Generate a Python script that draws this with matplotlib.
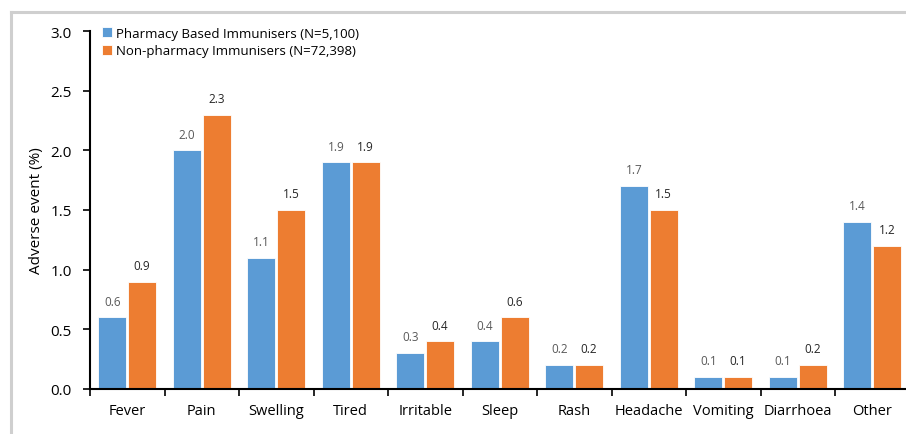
import numpy as np
import matplotlib.pyplot as plt
from matplotlib.lines import Line2D

categories = ['Fever', 'Pain', 'Swelling', 'Tired', 'Irritable', 'Sleep', 'Rash',
              'Headache', 'Vomiting', 'Diarrhoea', 'Other']
pharmacy = [0.6, 2.0, 1.1, 1.9, 0.3, 0.4, 0.2, 1.7, 0.1, 0.1, 1.4]
non_pharmacy = [0.9, 2.3, 1.5, 1.9, 0.4, 0.6, 0.2, 1.5, 0.1, 0.2, 1.2]
labels = ['Pharmacy Based Immunisers (N=5,100)', 'Non-pharmacy Immunisers (N=72,398)']

plt.rcParams['font.family'] = ['Open Sans', 'DejaVu Sans']

fig = plt.figure(figsize=(9.06, 4.35), dpi=100)
# light grey frame (top and left edges visible)
fx, fy = 10.5 / 906, 1 - 12.5 / 435
fig.add_artist(Line2D([fx, 0.999], [fy, fy], transform=fig.transFigure, color='#cfcfcf', linewidth=2.2))
fig.add_artist(Line2D([fx, fx], [0.001, fy], transform=fig.transFigure, color='#cfcfcf', linewidth=2.2))

ax = fig.add_axes([90 / 906, 45 / 435, 819.5 / 906, 358 / 435])

x = np.arange(len(categories))
w = 0.375
b1 = ax.bar(x - w / 2 - 0.012, pharmacy, w, color='#5B9BD5', edgecolor='white', linewidth=0.6, label=labels[0])
b2 = ax.bar(x + w / 2 + 0.012, non_pharmacy, w, color='#ED7D31', edgecolor='white', linewidth=0.6, label=labels[1])

for rect, v in zip(b1, pharmacy):
    ax.annotate(f'{v:.1f}', (rect.get_x() + rect.get_width() / 2, v), xytext=(0, 7),
                textcoords='offset points', ha='center', va='bottom', fontsize=8.5, color='#595959')
for rect, v in zip(b2, non_pharmacy):
    ax.annotate(f'{v:.1f}', (rect.get_x() + rect.get_width() / 2, v), xytext=(0, 7),
                textcoords='offset points', ha='center', va='bottom', fontsize=8.5, color='#262626')

ax.set_xlim(-0.5, len(categories) - 0.5)
ax.set_ylim(0, 3.0)
ax.set_yticks(np.arange(0, 3.01, 0.5))
ax.set_yticklabels([f'{t:.1f}' for t in np.arange(0, 3.01, 0.5)], fontsize=11)
ax.set_xticks(np.arange(-0.5, len(categories), 1.0))
ax.set_xticklabels([])
ax.set_xticks(x, minor=True)
ax.set_xticklabels(categories, minor=True, fontsize=10.5)
ax.tick_params(axis='x', which='minor', length=0, pad=10)
ax.tick_params(axis='x', which='major', length=5, width=1.2, direction='out')
ax.tick_params(axis='y', length=5, width=1.2, direction='out', pad=8)
ax.set_ylabel('Adverse event (%)', fontsize=11, labelpad=5)

for s in ['top', 'right']:
    ax.spines[s].set_visible(False)
for s in ['left', 'bottom']:
    ax.spines[s].set_linewidth(1.5)

ax.legend(loc='upper left', bbox_to_anchor=(0.0, 1.045), frameon=False, fontsize=9.5,
          handlelength=0.8, handleheight=0.8, handletextpad=0.3, labelspacing=0.35)

plt.savefig('out.png', dpi=100)
